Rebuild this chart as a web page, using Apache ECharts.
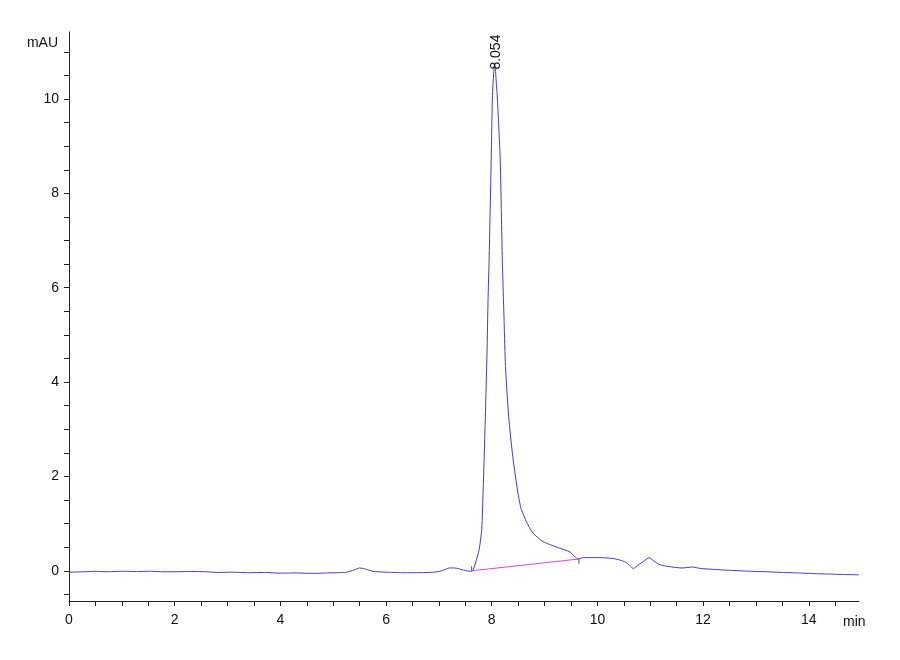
<!DOCTYPE html>
<html>
<head>
<meta charset="utf-8">
<script src="https://cdn.jsdelivr.net/npm/echarts@6/dist/echarts.min.js"></script>
<style>
html,body{margin:0;padding:0;background:#fff;}
#chart{width:900px;height:660px;}
</style>
</head>
<body>
<div id="chart"></div>
<script>
// Chromatogram trace (time in min, signal in mAU)
const times = [0, 0.3, 0.5, 0.7, 1.0, 1.3, 1.5, 1.8, 2.0, 2.3, 2.6, 2.8, 3.1, 3.4, 3.7, 4.0, 4.3, 4.6, 4.9, 5.1, 5.25, 5.4, 5.5, 5.6, 5.75, 6.0, 6.3, 6.6, 6.9, 7.05, 7.2, 7.3, 7.45, 7.55, 7.62, 7.65, 7.71, 7.76, 7.81, 7.84, 7.87, 7.91, 7.93, 7.95, 7.99, 8.015, 8.054, 8.10, 8.16, 8.20, 8.235, 8.26, 8.32, 8.40, 8.50, 8.56, 8.66, 8.78, 8.97, 9.26, 9.48, 9.57, 9.635, 9.73, 9.9, 10.05, 10.3, 10.45, 10.55, 10.62, 10.68, 10.78, 10.9, 10.98, 11.05, 11.18, 11.35, 11.6, 11.8, 11.95, 12.2, 12.5, 12.9, 13.2, 13.5, 13.8, 14.1, 14.4, 14.7, 14.95];
const signal = [-0.03, -0.02, -0.01, -0.02, -0.01, -0.015, -0.01, -0.02, -0.02, -0.015, -0.02, -0.035, -0.03, -0.04, -0.035, -0.05, -0.045, -0.055, -0.045, -0.04, -0.03, 0.02, 0.06, 0.04, -0.01, -0.03, -0.04, -0.04, -0.03, 0.0, 0.06, 0.06, 0.02, -0.005, -0.01, 0.02, 0.23, 0.44, 0.87, 1.8, 2.9, 4.6, 5.74, 6.59, 8.71, 10.13, 10.75, 10.13, 8.71, 6.59, 5.25, 4.33, 3.27, 2.40, 1.62, 1.30, 1.03, 0.80, 0.62, 0.49, 0.40, 0.30, 0.25, 0.28, 0.28, 0.28, 0.26, 0.22, 0.17, 0.1, 0.05, 0.13, 0.22, 0.28, 0.22, 0.13, 0.09, 0.06, 0.08, 0.05, 0.03, 0.01, -0.01, -0.02, -0.035, -0.045, -0.06, -0.07, -0.08, -0.085];

// Integration baseline of the peak
const baseTimes = [7.62, 9.65];
const baseValues = [0.0, 0.25];

// Peak annotation
const peakTime = 8.054;
const peakHeight = 10.75;
const peakLabel = '8.054';

// Axis ticks / labels
const xTicks = [0,0.5,1,1.5,2,2.5,3,3.5,4,4.5,5,5.5,6,6.5,7,7.5,8,8.5,9,9.5,10,10.5,11,11.5,12,12.5,13,13.5,14,14.5];
const xLabels = [0,2,4,6,8,10,12,14];
const yTicks = [-0.5,0,0.5,1,1.5,2,2.5,3,3.5,4,4.5,5,5.5,6,6.5,7,7.5,8,8.5,9,9.5,10,10.5,11];
const yLabels = [0,2,4,6,8,10];

const trace = times.map((t, i) => [t, signal[i]]);
const baseline = baseTimes.map((t, i) => [t, baseValues[i]]);
const startMark = [[baseTimes[0], baseValues[0]], [baseTimes[0], baseValues[0] + 0.1]];
const endMark = [[baseTimes[1], baseValues[1]], [baseTimes[1], baseValues[1] - 0.1]];

const FONT = '"Liberation Sans", Arial, sans-serif';
const axisCol = '#222';

const chart = echarts.init(document.getElementById('chart'), null, {renderer: 'canvas'});
chart.setOption({
  backgroundColor: '#fff',
  animation: false,
  grid: {left: 69, right: 41, top: 32, bottom: 59},
  xAxis: {
    type: 'value',
    min: 0,
    max: 14.95,
    name: 'min',
    nameLocation: 'end',
    nameGap: -16,
    nameTextStyle: {color: '#111', fontFamily: FONT, fontSize: 14, align: 'left', verticalAlign: 'top', padding: [14, 0, 0, 0]},
    axisLine: {onZero: false, lineStyle: {color: axisCol, width: 1}},
    axisTick: {show: true, length: 5, customValues: xTicks, lineStyle: {color: axisCol}},
    axisLabel: {customValues: xLabels, color: '#111', fontFamily: FONT, fontSize: 14, margin: 12},
    splitLine: {show: false}
  },
  yAxis: {
    type: 'value',
    min: -0.64,
    max: 11.42,
    name: 'mAU',
    nameLocation: 'end',
    nameGap: -18,
    nameTextStyle: {color: '#111', fontFamily: FONT, fontSize: 14, align: 'right', padding: [0, 11, 0, 0]},
    axisLine: {show: true, onZero: false, lineStyle: {color: axisCol, width: 1}},
    axisTick: {show: true, length: 5, customValues: yTicks, lineStyle: {color: axisCol}},
    axisLabel: {customValues: yLabels, color: '#111', fontFamily: FONT, fontSize: 14, margin: 10},
    splitLine: {show: false}
  },
  series: [
    {
      type: 'line',
      data: trace,
      showSymbol: false,
      smooth: 0.2,
      lineStyle: {color: '#3c3cd0', width: 1},
      z: 3,
      markPoint: {
        symbol: 'circle',
        symbolSize: 0,
        silent: true,
        data: [{coord: [peakTime, peakHeight]}],
        label: {
          show: true,
          formatter: peakLabel,
          position: 'inside',
          rotate: 90,
          align: 'left',
          verticalAlign: 'middle',
          offset: [-6, 2],
          color: '#111',
          fontFamily: FONT,
          fontSize: 14
        }
      }
    },
    {
      type: 'line',
      data: baseline,
      showSymbol: false,
      lineStyle: {color: '#e040e0', width: 1},
      z: 4
    },
    {
      type: 'line',
      data: startMark,
      showSymbol: false,
      lineStyle: {color: '#555', width: 1},
      z: 4
    },
    {
      type: 'line',
      data: endMark,
      showSymbol: false,
      lineStyle: {color: '#555', width: 1},
      z: 4
    }
  ]
});
</script>
</body>
</html>
